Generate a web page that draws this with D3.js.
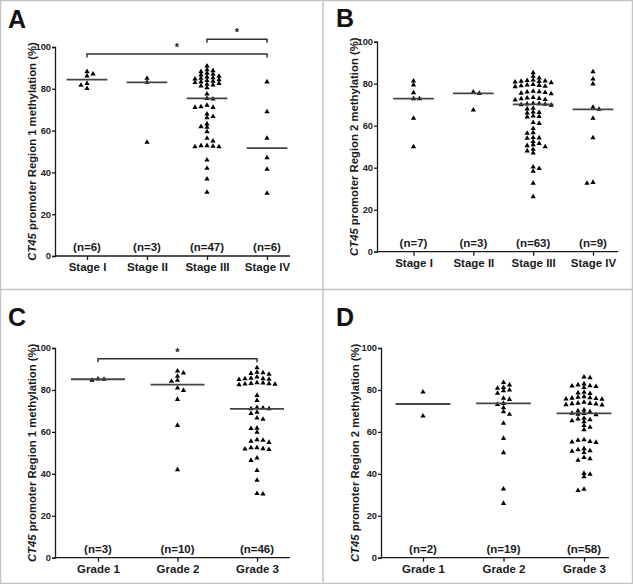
<!DOCTYPE html>
<html><head><meta charset="utf-8">
<script src="https://cdn.jsdelivr.net/npm/d3@7"></script>
<style>body{margin:0;background:#fff}svg{display:block}</style>
</head><body>
<script>
// ---------- data ----------
const stageCats = ["Stage I", "Stage II", "Stage III", "Stage IV"];
const gradeCats = ["Grade 1", "Grade 2", "Grade 3"];
const yTicks = [0, 20, 40, 60, 80, 100];

const r1StageI = [87.1, 86.1, 88.2, 82.6, 80.1, 81.7];
const r1StageII = [85.0, 83.1, 54.4];
const r1StageIII = [90.9, 89.1, 88.7, 88.2, 87.5, 87.0, 86.6, 86.0, 85.7, 85.3, 85.0, 84.7, 84.3, 84.0, 83.6, 83.3, 83.0, 82.6, 82.2, 81.8, 81.3, 80.5,
  77.5, 75.4, 75.1, 72.1, 71.4, 71.1, 71.1, 67.9, 66.7, 66.2, 63.2, 61.9, 61.6, 59.5, 56.3, 55.0, 52.8, 52.3, 52.3, 52.8, 52.5, 45.9, 42.0, 36.8, 30.5];
const r1StageIV = [83.3, 69.0, 56.3, 47.0, 41.5, 30.0];

const r2StageI = [81.3, 79.4, 75.7, 72.9, 72.9, 63.5, 50.0];
const r2StageII = [76.0, 75.4, 67.5];
const r2StageIII = [85.2, 83.5, 82.7, 81.8, 81.3, 81.0, 80.8, 81.5, 80.5, 81.2, 79.4, 79.0, 78.8, 79.2, 78.6, 79.6,
  76.2, 75.8, 75.5, 76.0, 75.2, 76.4, 73.2, 72.8, 73.0, 72.5, 73.4, 72.2, 70.6, 70.3, 70.0, 70.2, 69.8, 70.5,
  68.3, 68.0, 66.5, 66.3, 66.0, 64.6, 64.4, 64.2, 61.5, 61.1, 58.7, 56.4, 56.7, 54.4, 54.0, 54.2, 52.5, 51.5,
  50.5, 50.0, 50.9, 48.0, 48.8, 47.0, 40.3, 39.6, 38.3, 32.6, 26.2];
const r2StageIV = [85.7, 82.2, 79.9, 68.8, 67.8, 63.5, 54.3, 32.6, 33.0];

const r1Grade1 = [85.2, 84.6, 85.1];
const r1Grade2 = [89.0, 88.1, 86.5, 84.1, 84.6, 80.9, 79.8, 75.5, 63.1, 42.0];
const r1Grade3 = [90.6, 88.4, 88.2, 87.9, 87.5, 86.2, 85.6, 85.4, 85.3, 85.1, 85.0, 83.4, 83.3, 83.1, 83.0, 82.8, 82.7, 82.5,
  77.4, 75.0, 71.6, 71.4, 71.0, 71.0, 69.4, 68.8, 66.6, 66.0, 61.8, 61.6, 59.8, 56.2, 55.5, 55.0, 56.0,
  52.5, 52.0, 51.6, 51.8, 52.4, 47.5, 46.4, 41.6, 36.9, 30.4, 30.6];

const r2Grade1 = [79.0, 67.6];
const r2Grade2 = [83.5, 82.4, 81.2, 80.8, 80.0, 79.6, 78.4, 76.0, 75.5, 73.6, 73.1, 71.5, 69.6, 68.4, 64.1, 56.9, 50.1, 32.8, 25.9];
const r2Grade3 = [85.8, 86.2, 82.9, 82.0, 81.6, 82.4, 81.9, 81.2, 78.6, 78.9, 78.3,
  76.8, 75.9, 76.3, 75.6, 76.1, 75.7, 76.5, 73.4, 73.0, 73.7, 74.1, 73.3, 72.8, 73.6,
  70.4, 70.0, 69.6, 68.9, 68.8, 68.4, 68.2, 66.5, 65.8, 66.2, 64.8, 65.3, 63.0, 62.2, 61.0,
  56.0, 55.0, 55.2, 55.4, 56.2, 51.5, 50.8, 50.2, 51.0, 52.0, 47.8, 46.5, 47.2, 39.8, 38.6, 40.2, 32.0, 32.6];

// ---------- drawing ----------
const W = 633, H = 584;
const FONT = "'Liberation Sans', Arial, Helvetica, sans-serif";
const INK = "#1a1a1a";
const svg = d3.select("body").append("svg").attr("width", W).attr("height", H)
  .style("font-family", FONT);

svg.append("rect").attr("x", 0.5).attr("y", 0.5).attr("width", W - 1).attr("height", H - 1)
  .attr("fill", "#fff").attr("stroke", "#c4c4c4").attr("stroke-width", 1.5);
svg.append("line").attr("x1", 323).attr("x2", 323).attr("y1", 0).attr("y2", H)
  .attr("stroke", "#c4c4c4").attr("stroke-width", 1.5);
svg.append("line").attr("x1", 0).attr("x2", W).attr("y1", 289.5).attr("y2", 289.5)
  .attr("stroke", "#c4c4c4").attr("stroke-width", 1.5);

// slot-grid column scatter (rectangular collision, half-width slots)
function swarm(values, cx, y, sx, sy) {
  const pts = values.map(v => ({ v, y: y(v), x: 0 }));
  const order = pts.slice().sort((a, b) => b.v - a.v);
  const placed = [];
  let side = 1;
  const half = sx / 2;
  for (const p of order) {
    const near = placed.filter(q => Math.abs(q.y - p.y) < sy);
    let chosen = 0;
    for (let k = 0; k < 60; k++) {
      const tries = k === 0 ? [0] : [side * k * half, -side * k * half];
      const hit = tries.find(c => near.every(q => Math.abs(q.x - c) >= sx - 1e-6));
      if (hit !== undefined) { chosen = hit; break; }
    }
    p.x = chosen;
    placed.push(p);
    if (chosen !== 0) side = chosen > 0 ? -1 : 1;
  }
  pts.forEach(p => p.x += cx);
  return pts;
}

function panel(cfg) {
  const g = svg.append("g");
  const y = d3.scaleLinear().domain([0, 100]).range([cfg.y0, cfg.y100]);
  const x = d3.scalePoint().domain(cfg.cats).range(cfg.catRange);
  const step = x.step();

  g.append("text").attr("x", cfg.lx).attr("y", cfg.ly).text(cfg.letter)
    .attr("font-size", 25).attr("font-weight", "bold").attr("fill", "#111");

  const ya = g.append("g").attr("transform", `translate(${cfg.axisX},0)`)
    .call(d3.axisLeft(y).tickValues(yTicks).tickSize(3).tickPadding(1));
  ya.select(".domain").attr("stroke", INK).attr("stroke-width", 1.3);
  ya.selectAll(".tick line").attr("stroke", INK).attr("stroke-width", 1.3);
  ya.selectAll("text").attr("font-size", 9.3).attr("font-weight", "bold").attr("fill", "#222")
    .attr("font-family", FONT);

  const xa = g.append("g").attr("transform", `translate(0,${cfg.y0})`)
    .call(d3.axisBottom(x).tickSize(4).tickPadding(3));
  xa.select(".domain").attr("d", `M${cfg.axisX},0H${cfg.xEnd}`).attr("stroke", INK).attr("stroke-width", 1.3);
  xa.selectAll(".tick line").attr("stroke", INK).attr("stroke-width", 1.3);
  xa.selectAll("text").attr("font-size", 11.5).attr("font-weight", "bold").attr("fill", INK)
    .attr("font-family", FONT);

  const t = g.append("text")
    .attr("transform", `translate(${cfg.titleX},${(cfg.y0 + cfg.y100) / 2}) rotate(-90)`)
    .attr("text-anchor", "middle").attr("font-size", 11.3).attr("font-weight", "bold").attr("fill", INK);
  t.append("tspan").attr("font-style", "italic").text("CT45");
  t.append("tspan").text(` promoter Region ${cfg.region} methylation (%)`);

  cfg.groups.forEach((vals, i) => {
    const cx = x(cfg.cats[i]);
    const pts = swarm(vals, cx, y, 6, 3.2);
    g.append("g").selectAll("path").data(pts).join("path")
      .attr("d", d3.symbol(d3.symbolTriangle, 12))
      .attr("transform", d => `translate(${d.x},${d.y})`)
      .attr("fill", "#000");
    const med = d3.median(vals);
    g.append("line").attr("x1", cx - step * 0.34).attr("x2", cx + step * 0.34)
      .attr("y1", y(med)).attr("y2", y(med))
      .attr("stroke", "#444").attr("stroke-width", 1.8);
    g.append("text").attr("x", cx).attr("y", cfg.y0 - 5).attr("text-anchor", "middle")
      .attr("font-size", 11.5).attr("font-weight", "bold").attr("fill", INK)
      .text(`(n=${vals.length})`);
  });

  (cfg.brackets || []).forEach(b => {
    const x1 = x(b.from), x2 = x(b.to), yb = y(b.level), drop = 3.5;
    g.append("path").attr("d", `M${x1},${yb + drop}V${yb}H${x2}V${yb + drop}`)
      .attr("fill", "none").attr("stroke", "#333").attr("stroke-width", 1.5);
    g.append("text").attr("x", (x1 + x2) / 2).attr("y", yb - 3).attr("text-anchor", "middle")
      .attr("font-size", 11).attr("font-weight", "bold").attr("fill", INK).text("*");
  });
}

panel({ letter: "A", lx: 8, ly: 28, axisX: 55, xEnd: 290, y0: 256, y100: 47, titleX: 36,
  cats: stageCats, catRange: [87, 267], region: 1,
  groups: [r1StageI, r1StageII, r1StageIII, r1StageIV],
  brackets: [{ from: "Stage I", to: "Stage IV", level: 96.7 }, { from: "Stage III", to: "Stage IV", level: 103.7 }] });

panel({ letter: "B", lx: 336, ly: 27, axisX: 377, xEnd: 618, y0: 251.7, y100: 41.7, titleX: 358,
  cats: stageCats, catRange: [413.5, 593], region: 2,
  groups: [r2StageI, r2StageII, r2StageIII, r2StageIV] });

panel({ letter: "C", lx: 8, ly: 326, axisX: 55, xEnd: 290, y0: 557.7, y100: 348, titleX: 36,
  cats: gradeCats, catRange: [98, 257], region: 1,
  groups: [r1Grade1, r1Grade2, r1Grade3],
  brackets: [{ from: "Grade 1", to: "Grade 3", level: 94.9 }] });

panel({ letter: "D", lx: 336, ly: 326, axisX: 381, xEnd: 609, y0: 557.7, y100: 348, titleX: 359,
  cats: gradeCats, catRange: [423, 584], region: 2,
  groups: [r2Grade1, r2Grade2, r2Grade3] });
</script>
</body></html>
